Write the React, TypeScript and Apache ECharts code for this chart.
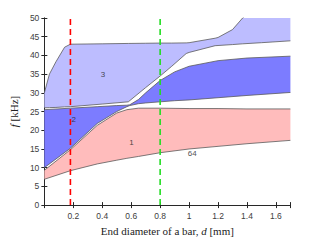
import React, { useEffect, useRef } from "react";
import * as echarts from "echarts";

// Band 1 (pink)
const band1X = [0, 0.18, 0.365, 0.5, 0.57, 0.65, 0.8, 1.0, 1.2, 1.4, 1.7];
const band1Lower = [6.9, 9.2, 11.0, 12.0, 12.5, 13.0, 14.0, 15.0, 15.7, 16.4, 17.3];
const band1Upper = [9.3, 14.8, 21.3, 24.6, 25.5, 25.9, 25.9, 25.8, 25.8, 25.7, 25.7];

// Band 2 (blue)
const band2X = [0, 0.18, 0.365, 0.5, 0.57, 0.59, 0.65, 0.7, 0.8, 0.9, 1.0, 1.2, 1.4, 1.7];
const band2Lower = [10.0, 15.2, 21.8, 25.0, 26.3, 26.6, 27.1, 27.3, 27.6, 27.9, 28.1, 28.7, 29.3, 30.1];
const band2Upper = [25.5, 25.9, 26.3, 26.6, 26.7, 26.8, 28.2, 30.0, 33.3, 35.6, 37.1, 38.6, 39.3, 39.8];

// Band 3 (light blue)
const band3X = [0, 0.035, 0.08, 0.14, 0.18, 0.4, 0.58, 0.7, 0.8, 0.88, 0.98, 1.0, 1.18, 1.2, 1.3, 1.37, 1.5, 1.7];
const band3Lower = [26.0, 26.05, 26.1, 26.25, 26.3, 27.0, 27.6, 31.4, 34.5, 37.1, 40.5, 40.8, 42.6, 42.65, 42.9, 43.1, 43.4, 43.9];
const band3Upper = [30.0, 35.0, 38.3, 42.2, 43.0, 43.1, 43.2, 43.25, 43.3, 43.3, 43.35, 43.4, 44.6, 44.8, 46.9, 50.0, 54.0, 60.0];

// Vertical dashed markers (mm)
const redLineX = 0.18;
const greenLineX = 0.8;

// Band labels: [x, y, text]
const bandLabels: [number, number, string][] = [
  [0.602, 16.8, "1"],
  [0.203, 22.8, "2"],
  [0.405, 34.9, "3"],
  [1.022, 13.9, "64"],
];

const xTicks = [0.2, 0.4, 0.6, 0.8, 1, 1.2, 1.4, 1.6];

const EDGE = "#5a5a5a";
const Y_MAX = 50;

function bandSeries(xs: number[], lo: number[], up: number[], color: string) {
  const fill = {
    type: "custom",
    data: [[xs[0], lo[0]]],
    z: 2,
    silent: true,
    renderItem: (params: any, api: any) => {
      const pts: number[][] = [];
      for (let i = 0; i < xs.length; i++) pts.push(api.coord([xs[i], Math.min(lo[i], Y_MAX)]));
      for (let i = xs.length - 1; i >= 0; i--) pts.push(api.coord([xs[i], Math.min(up[i], Y_MAX)]));
      return {
        type: "polygon",
        shape: { points: pts },
        style: { fill: color, stroke: "none" },
      };
    },
  };
  const edge = (vals: number[]) => ({
    type: "line",
    data: xs.map((x, i) => [x, vals[i]]),
    symbol: "none",
    lineStyle: { color: EDGE, width: 0.8 },
    z: 3,
    silent: true,
  });
  return [fill, edge(lo), edge(up)];
}

export default function App() {
  const ref = useRef<HTMLDivElement>(null);
  useEffect(() => {
    if (!ref.current) return;
    const chart = echarts.init(ref.current, null, { renderer: "svg" });
    const tickFont = { fontFamily: "Liberation Sans", fontSize: 8.5, color: "#404040" };
    const titleStyle = {
      fontFamily: "Liberation Serif",
      fontSize: 11,
      color: "#222",
      rich: { i: { fontFamily: "Liberation Serif", fontStyle: "italic", fontSize: 11, color: "#222" } },
    };
    const option: any = {
      animation: false,
      backgroundColor: "#ffffff",
      grid: { left: 41.7, right: 30.6, top: 18, bottom: 28.7 },
      xAxis: [
        {
          type: "value",
          min: 0,
          max: 1.7,
          interval: 0.2,
          position: "bottom",
          axisLine: { lineStyle: { color: "#262626", width: 0.9 } },
          axisTick: { inside: true, length: 3, lineStyle: { color: "#262626" } },
          splitLine: { show: false },
          axisLabel: {
            ...tickFont,
            margin: 6,
            formatter: (v: number) => {
              const m = xTicks.find((t) => Math.abs(t - v) < 1e-6);
              return m === undefined ? "" : String(m);
            },
          },
          name: "End diameter of a bar, {i|d} [mm]",
          nameLocation: "middle",
          nameGap: 14,
          nameTextStyle: titleStyle,
        },
        {
          type: "value",
          min: 0,
          max: 1.7,
          interval: 0.2,
          position: "top",
          axisLine: { lineStyle: { color: "#262626", width: 0.9 } },
          axisTick: { inside: true, length: 3, lineStyle: { color: "#262626" } },
          axisLabel: { show: false },
          splitLine: { show: false },
        },
      ],
      yAxis: [
        {
          type: "value",
          min: 0,
          max: Y_MAX,
          interval: 5,
          position: "left",
          axisLine: { show: true, lineStyle: { color: "#262626", width: 0.9 } },
          axisTick: { show: true, inside: true, length: 3, lineStyle: { color: "#262626" } },
          splitLine: { show: false },
          axisLabel: { ...tickFont, margin: 5 },
          name: "{i|f} [kHz]",
          nameLocation: "middle",
          nameRotate: 90,
          nameGap: 11,
          nameTextStyle: titleStyle,
        },
        {
          type: "value",
          min: 0,
          max: Y_MAX,
          interval: 5,
          position: "right",
          axisLine: { show: true, lineStyle: { color: "#262626", width: 0.9 } },
          axisTick: { show: true, inside: true, length: 3, lineStyle: { color: "#262626" } },
          axisLabel: { show: false },
          splitLine: { show: false },
        },
      ],
      series: [
        ...bandSeries(band1X, band1Lower, band1Upper, "#ffbcbc"),
        ...bandSeries(band2X, band2Lower, band2Upper, "#7c7cff"),
        ...bandSeries(band3X, band3Lower, band3Upper, "#bdbdff"),
        {
          type: "line",
          data: [[redLineX, 0], [redLineX, Y_MAX]],
          symbol: "none",
          lineStyle: { color: "#ff0000", width: 1.6, type: [6, 4] },
          z: 5,
          silent: true,
        },
        {
          type: "line",
          data: [[greenLineX, 0], [greenLineX, Y_MAX]],
          symbol: "none",
          lineStyle: { color: "#22dd22", width: 1.6, type: [6, 4] },
          z: 5,
          silent: true,
        },
        {
          type: "scatter",
          data: bandLabels.map((l) => ({ value: [l[0], l[1]], name: l[2] })),
          symbolSize: 0,
          z: 6,
          silent: true,
          label: {
            show: true,
            position: "inside",
            formatter: (p: any) => p.name,
            fontFamily: "Liberation Sans",
            fontSize: 8,
            color: "#222",
          },
        },
      ],
    };
    chart.setOption(option);
    return () => chart.dispose();
  }, []);
  return (
    <div
      ref={ref}
      style={{ position: "absolute", left: 0, top: 0, width: 321, height: 241 }}
    />
  );
}
